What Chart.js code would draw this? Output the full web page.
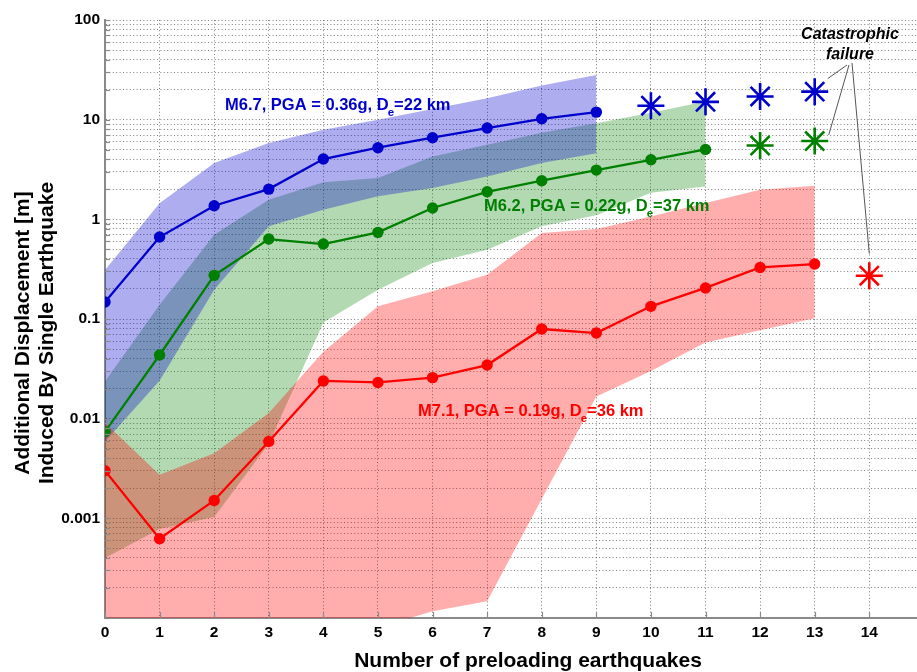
<!DOCTYPE html>
<html>
<head>
<meta charset="utf-8">
<script src="https://cdn.jsdelivr.net/npm/chart.js@4.4.0/dist/chart.umd.min.js"></script>
<style>
  html, body { margin: 0; padding: 0; background: #fff; overflow: hidden; }
  canvas { display: block; }
</style>
</head>
<body>
<canvas id="chart" width="917" height="672"></canvas>
<script>
// Number of preloading earthquakes (x categories)
const preloads = [0, 1, 2, 3, 4, 5, 6, 7, 8, 9, 10, 11, 12, 13, 14];

// Median additional displacement [m] for each scenario
const m67Disp = [0.148, 0.664, 1.37, 2.01, 4.03, 5.23, 6.59, 8.24, 10.2, 11.9];
const m62Disp = [0.0074, 0.0435, 0.274, 0.634, 0.565, 0.74, 1.30, 1.89, 2.44, 3.12, 3.96, 5.03];
const m71Disp = [0.0030, 0.000624, 0.00151, 0.0059, 0.0239, 0.0231, 0.0258, 0.0345, 0.0793, 0.0723, 0.134, 0.205, 0.329, 0.356];

// Scatter range (upper / lower envelopes)
const m67Upper = [0.31, 1.45, 3.67, 5.83, 7.9, 10.0, 12.8, 16.4, 22.0, 28.0];
const m67Lower = [0.0059, 0.024, 0.197, 0.85, 1.25, 1.70, 2.06, 2.69, 3.67, 4.6];
const m62Upper = [0.0236, 0.139, 0.70, 1.57, 2.35, 2.6, 4.27, 5.6, 7.4, 9.2, 11.7, 15.2];
const m62Lower = [0.0004, 0.00078, 0.00103, 0.0056, 0.092, 0.197, 0.364, 0.496, 0.85, 1.1, 1.85, 2.14];
const m71Upper = [0.0091, 0.00274, 0.0045, 0.0114, 0.047, 0.134, 0.19, 0.278, 0.73, 0.8, 1.07, 1.46, 1.98, 2.17];
const m71Lower = [0.00005, 0.00005, 0.00005, 0.00005, 0.00005, 0.00008, 0.000117, 0.000147, 0.00156, 0.0167, 0.030, 0.058, 0.077, 0.102];

// Catastrophic failure markers
const m67FailX = [10, 11, 12, 13];
const m67Fail = [13.8, 15.1, 17.1, 19.1];
const m62FailX = [12, 13];
const m62Fail = [5.5, 6.1];
const m71FailX = [14];
const m71Fail = [0.272];

// Axis ticks and text
const yDecades = [0.0001, 0.001, 0.01, 0.1, 1, 10, 100];
const yTickValues = [0.001, 0.01, 0.1, 1, 10, 100];
const yTickText = ['0.001', '0.01', '0.1', '1', '10', '100'];
const xTitle = 'Number of preloading earthquakes';
const yTitleLines = ['Additional Displacement [m]', 'Induced By Single Earthquake'];
const seriesLabels = [
  { pre: 'M6.7, PGA = 0.36g, D', sub: 'e', post: '=22 km', color: '#0000cc', left: 225, base: 110 },
  { pre: 'M6.2, PGA = 0.22g, D', sub: 'e', post: '=37 km', color: '#008000', left: 484, base: 210.5 },
  { pre: 'M7.1, PGA = 0.19g, D', sub: 'e', post: '=36 km', color: '#ff0000', left: 418, base: 415.5 }
];
const failureText = ['Catastrophic', 'failure'];

const BLUE = '#0000cc', GREEN = '#008000', RED = '#ff0000';
const FONT = '"Liberation Sans", Arial, Helvetica, sans-serif';

const pts = (xs, ys) => ys.map((v, i) => ({ x: xs[i], y: v }));

const lineDs = (label, ys, color) => ({
  label, data: pts(preloads, ys), borderColor: color, backgroundColor: color,
  borderWidth: 2.3, pointRadius: 5.7, pointStyle: 'circle', pointBorderWidth: 0,
  fill: false, tension: 0
});
const starDs = (label, xs, ys, color) => ({
  label, data: pts(xs, ys), showLine: false, pointStyle: 'star', pointRadius: 13.5,
  borderColor: color, backgroundColor: color, pointBorderWidth: 2.6, fill: false
});
const bandLow = (label, ys) => ({
  label, data: pts(preloads, ys), borderWidth: 0, pointRadius: 0,
  borderColor: 'rgba(0,0,0,0)', fill: false
});
const bandHigh = (label, ys, color) => ({
  label, data: pts(preloads, ys), borderWidth: 0, pointRadius: 0,
  borderColor: 'rgba(0,0,0,0)', backgroundColor: color, fill: '-1'
});

// Gridline positions for the log axis: 1..9 x 10^n in every decade
const yGrid = [];
yDecades.forEach((d, i) => {
  if (i === yDecades.length - 1) { yGrid.push(d); return; }
  for (let s = 1; s <= 9; s++) yGrid.push(+(s * d).toPrecision(6));
});

const decor = {
  id: 'decor',
  afterDraw(chart) {
    const { ctx, chartArea: a, scales: { x, y } } = chart;
    ctx.save();

    // inward tick marks
    ctx.strokeStyle = '#8a8a8a';
    ctx.lineWidth = 1.2;
    y.ticks.forEach(t => {
      const py = Math.round(y.getPixelForValue(t.value)) + 0.5;
      ctx.beginPath(); ctx.moveTo(a.left, py); ctx.lineTo(a.left + 5, py); ctx.stroke();
    });
    x.ticks.forEach(t => {
      const px = Math.round(x.getPixelForValue(t.value)) + 0.5;
      ctx.beginPath(); ctx.moveTo(px, a.bottom); ctx.lineTo(px, a.bottom - 6); ctx.stroke();
    });

    // series labels with subscripted D_e
    ctx.textAlign = 'left';
    ctx.textBaseline = 'alphabetic';
    seriesLabels.forEach(s => {
      ctx.fillStyle = s.color;
      ctx.font = 'bold 16.5px ' + FONT;
      ctx.fillText(s.pre, s.left, s.base);
      let w = ctx.measureText(s.pre).width;
      ctx.font = 'bold 11.5px ' + FONT;
      ctx.fillText(s.sub, s.left + w - 1, s.base + 6);
      w += ctx.measureText(s.sub).width - 1;
      ctx.font = 'bold 16.5px ' + FONT;
      ctx.fillText(s.post, s.left + w, s.base);
    });

    // leader lines from the failure note to the last markers
    ctx.strokeStyle = '#555';
    ctx.lineWidth = 1;
    const leader = (sx, sy, vx, vy, dx, dy) => {
      ctx.beginPath();
      ctx.moveTo(sx, sy);
      ctx.lineTo(x.getPixelForValue(vx) + dx, y.getPixelForValue(vy) + dy);
      ctx.stroke();
    };
    leader(847, 65, m67FailX[m67FailX.length - 1], m67Fail[m67Fail.length - 1], 13, -13);
    leader(849, 65, m62FailX[m62FailX.length - 1], m62Fail[m62Fail.length - 1], 14, -6);
    leader(852, 63, m71FailX[0], m71Fail[0], 0, -22);

    // failure note
    ctx.fillStyle = '#000';
    ctx.textAlign = 'center';
    ctx.font = 'italic bold 16px ' + FONT;
    ctx.fillText(failureText[0], 850, 39);
    ctx.fillText(failureText[1], 850, 58.5);

    // axis titles
    ctx.font = 'bold 21px ' + FONT;
    ctx.fillText(xTitle, 528, 666.5);
    ctx.save();
    ctx.translate(0, 333);
    ctx.rotate(-Math.PI / 2);
    ctx.fillText(yTitleLines[0], 0, 29);
    ctx.fillText(yTitleLines[1], 0, 52.5);
    ctx.restore();

    ctx.restore();
  }
};

const gridStyle = { color: 'rgba(70,70,70,0.7)', lineWidth: 1, drawTicks: false };
const tickFont = { family: FONT, weight: 'bold', size: 15.5 };

new Chart(document.getElementById('chart'), {
  type: 'line',
  data: {
    datasets: [
      lineDs('M6.7', m67Disp, BLUE),
      lineDs('M6.2', m62Disp, GREEN),
      lineDs('M7.1', m71Disp, RED),
      starDs('M6.7 failure', m67FailX, m67Fail, BLUE),
      starDs('M6.2 failure', m62FailX, m62Fail, GREEN),
      starDs('M7.1 failure', m71FailX, m71Fail, RED),
      bandLow('M7.1 lower', m71Lower),
      bandHigh('M7.1 upper', m71Upper, 'rgba(255,0,0,0.32)'),
      bandLow('M6.7 lower', m67Lower),
      bandHigh('M6.7 upper', m67Upper, 'rgba(0,0,204,0.32)'),
      bandLow('M6.2 lower', m62Lower),
      bandHigh('M6.2 upper', m62Upper, 'rgba(0,128,0,0.30)')
    ]
  },
  options: {
    responsive: false,
    animation: false,
    devicePixelRatio: 1,
    layout: { autoPadding: false, padding: { top: 20, right: 0, bottom: 0, left: 0 } },
    plugins: { legend: { display: false }, tooltip: { enabled: false } },
    scales: {
      x: {
        type: 'linear', min: 0, max: 14.874,
        afterFit(s) { s.height = 54; },
        afterBuildTicks(s) { s.ticks = preloads.map(v => ({ value: v })); },
        grid: gridStyle,
        border: { display: true, color: '#8a8a8a', width: 2, dash: [1, 2.4] },
        ticks: {
          autoSkip: false, maxRotation: 0, padding: 5, color: '#000', font: tickFont,
          callback: v => String(v)
        }
      },
      y: {
        type: 'logarithmic', min: 0.0001, max: 100,
        afterFit(s) { s.width = 105; },
        afterBuildTicks(s) { s.ticks = yGrid.map(v => ({ value: v })); },
        grid: gridStyle,
        border: { display: true, color: '#8a8a8a', width: 2, dash: [1, 2.4] },
        ticks: {
          autoSkip: false, padding: 5, color: '#000', font: tickFont,
          callback: v => {
            const i = yTickValues.findIndex(t => Math.abs(t - v) / t < 1e-6);
            return i >= 0 ? yTickText[i] : '';
          }
        }
      }
    }
  },
  plugins: [decor]
});
</script>
</body>
</html>
